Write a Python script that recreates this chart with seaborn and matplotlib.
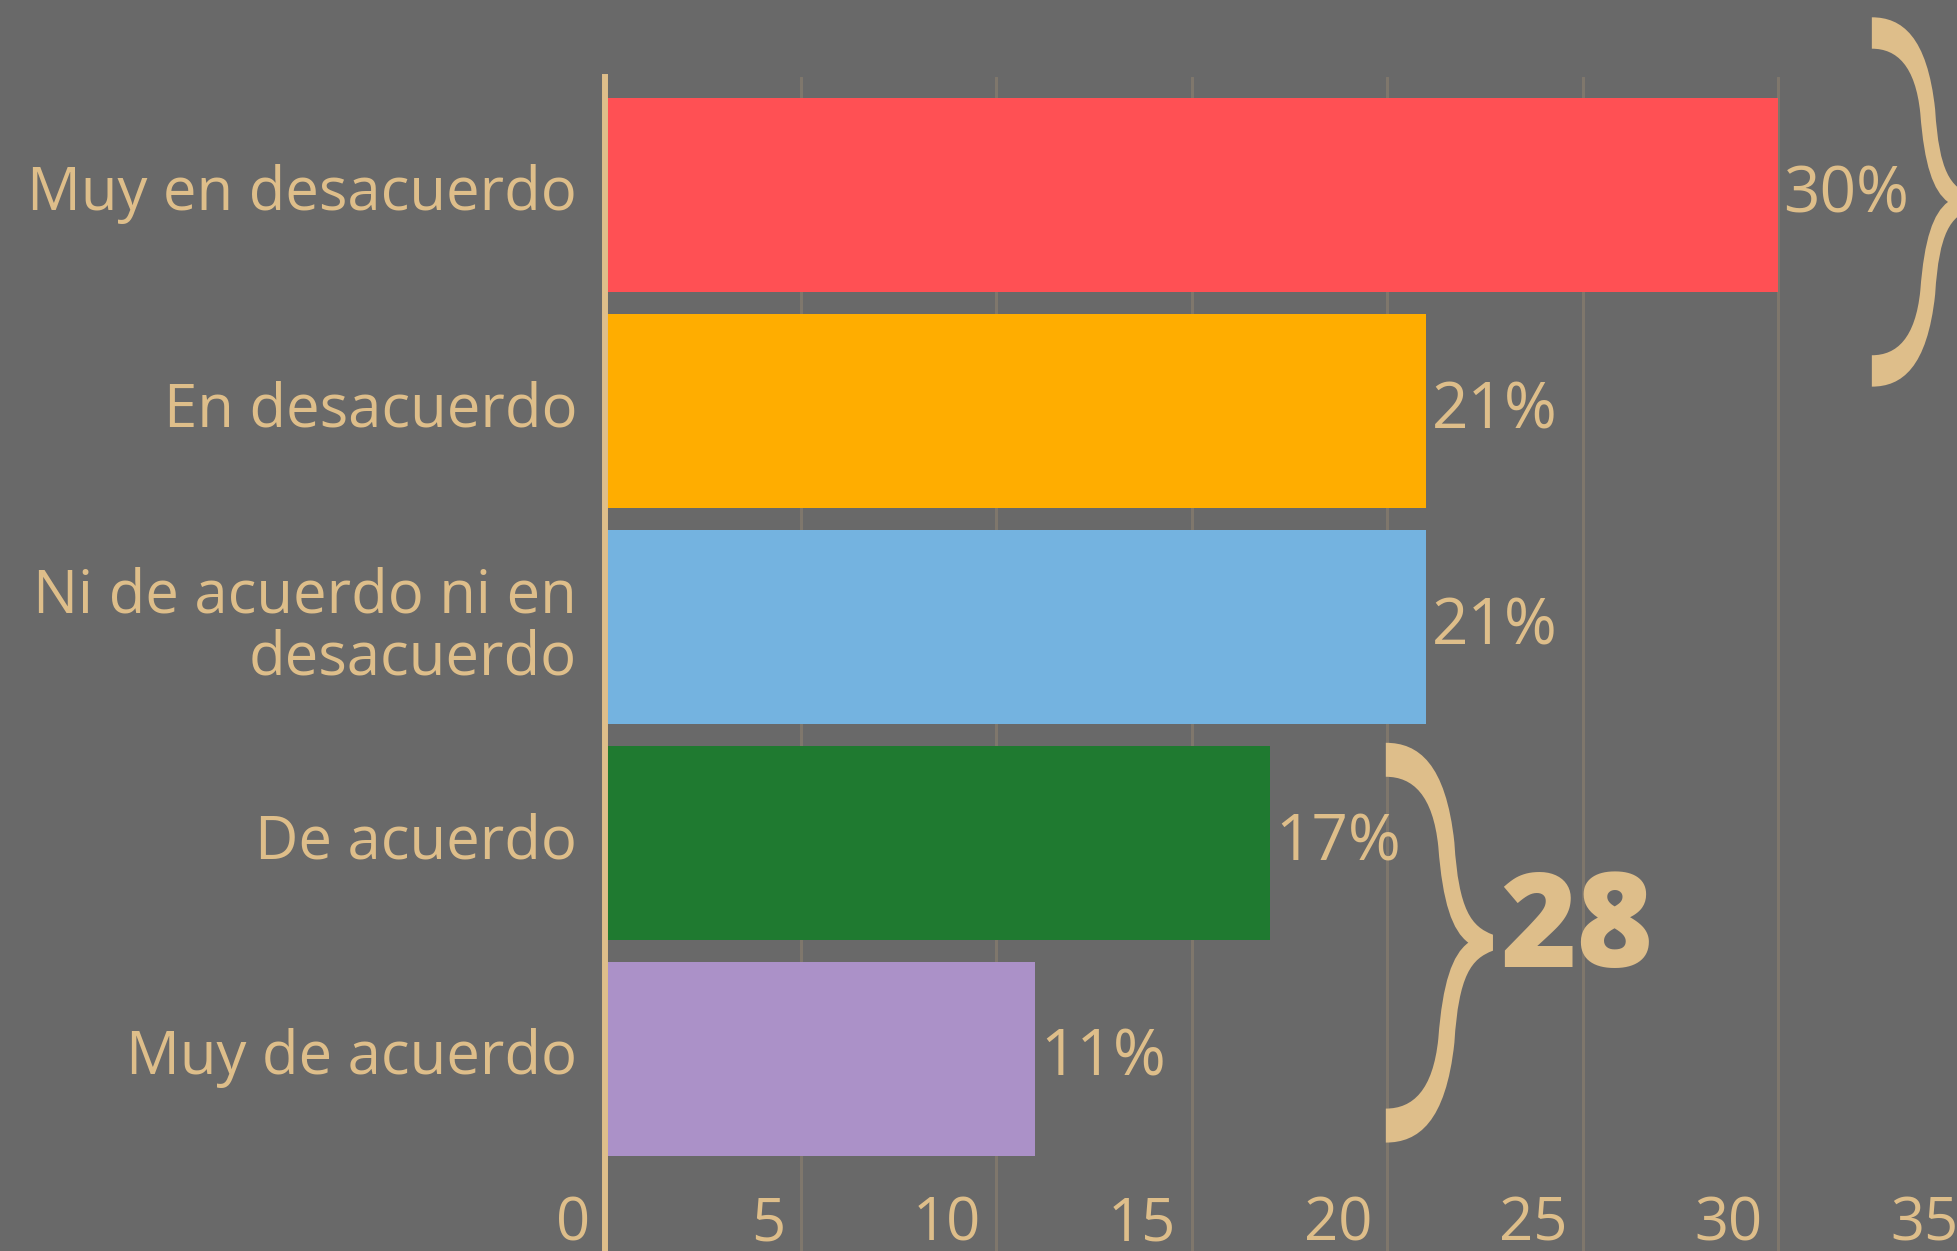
import matplotlib
matplotlib.use("Agg")
import matplotlib.pyplot as plt
import seaborn as sns
import pandas as pd
from matplotlib.path import Path
from matplotlib.patches import PathPatch
from matplotlib.transforms import ScaledTranslation

# survey answers (percent)
categories = ["Muy en desacuerdo", "En desacuerdo", "Ni de acuerdo ni en\ndesacuerdo",
              "De acuerdo", "Muy de acuerdo"]
values = [30, 21, 21, 17, 11]
colors = ["#FF5054", "#FFAD00", "#74B3E0", "#1F7A30", "#AB91C8"]
xticks = [0, 5, 10, 15, 20, 25, 30, 35]

bg = "#696969"
tan = "#DEBE8A"
gridc = "#7F776C"

sns.set_theme(style="white")
plt.rcParams["font.family"] = ["Open Sans", "DejaVu Sans"]

W, H = 1957, 1251
fig = plt.figure(figsize=(W / 100, H / 100), dpi=100, facecolor=bg)
ax = fig.add_axes([605 / W, 0, 1368.5 / W, 1174.3 / H])
ax.set_facecolor(bg)

df = pd.DataFrame({"categoria": categories, "pct": values})
sns.barplot(data=df, x="pct", y="categoria", hue="categoria", order=categories,
            hue_order=categories, palette=colors, saturation=1, width=0.9,
            orient="h", legend=False, linewidth=0, edgecolor="none", ax=ax)

ax.set_xlim(0, 35)
ax.set_ylim(4.889, -0.548)
ax.set_xticks(xticks)
ax.set_xlabel("")
ax.set_ylabel("")

ax.xaxis.grid(True, color=gridc, linewidth=2.2)
ax.yaxis.grid(False)
ax.set_axisbelow(True)
for s in ["top", "right", "bottom"]:
    ax.spines[s].set_visible(False)
ax.spines["left"].set_color(tan)
ax.spines["left"].set_linewidth(4.3)
ax.spines["left"].set_zorder(3)

ax.tick_params(axis="x", length=0, pad=-41, labelsize=43, labelcolor=tan)
ax.tick_params(axis="y", length=0, pad=20, labelsize=43, labelcolor=tan)
shift = ScaledTranslation(-15 / 100, 0, fig.dpi_scale_trans)
for lbl in ax.get_xticklabels():
    lbl.set_horizontalalignment("right")
    lbl.set_transform(lbl.get_transform() + shift)
up = ScaledTranslation(0, 8 / 100, fig.dpi_scale_trans)
for lbl in ax.get_yticklabels():
    lbl.set_linespacing(1.05)
    lbl.set_transform(lbl.get_transform() + up)

for cont in ax.containers:
    ax.bar_label(cont, fmt="%d%%", padding=4, color=tan, fontsize=46)


# curly brace outline, normalised (u to the right, v downwards)
def brace(x0, y0, w, h):
    pts = [(0, 0),
           (0.30, 0.0), (0.56, 0.05), (0.64, 0.25),
           (0.68, 0.42), (0.80, 0.46), (1.0, 0.48),
           (1.0, 0.52),
           (0.80, 0.54), (0.68, 0.58), (0.64, 0.75),
           (0.56, 0.95), (0.30, 1.0), (0, 1),
           (0, 0.915),
           (0.25, 0.915), (0.44, 0.87), (0.49, 0.74),
           (0.53, 0.60), (0.62, 0.53), (0.77, 0.50),
           (0.62, 0.47), (0.53, 0.40), (0.49, 0.26),
           (0.44, 0.13), (0.25, 0.085), (0, 0.085),
           (0, 0)]
    codes = ([Path.MOVETO] + [Path.CURVE4] * 6 + [Path.LINETO] + [Path.CURVE4] * 6
             + [Path.LINETO] + [Path.CURVE4] * 12 + [Path.CLOSEPOLY])
    verts = [(x0 + u * w, y0 + v * h) for u, v in pts]
    ax.add_patch(PathPatch(Path(verts, codes), facecolor=tan, edgecolor="none",
                           clip_on=False, zorder=4))


# disagree group (its total sits outside the canvas)
brace(32.40, -0.823, 2.53, 1.71)
# agree group
brace(19.97, 2.536, 2.74, 1.851)
ax.text(22.89, 3.573, str(values[3] + values[4]), color=tan, fontsize=94,
        fontweight=800, ha="left", va="baseline")

fig.savefig("out.png", dpi=100, facecolor=bg)
